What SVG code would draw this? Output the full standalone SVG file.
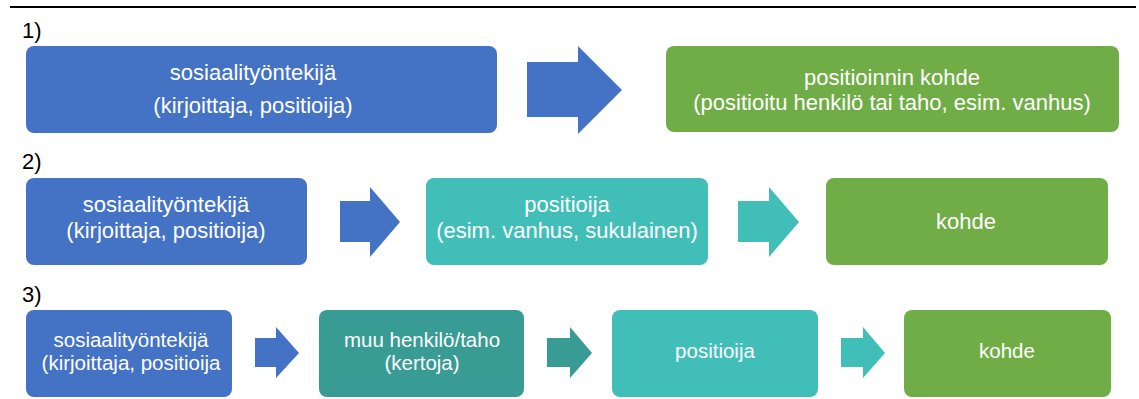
<svg xmlns="http://www.w3.org/2000/svg" width="1139" height="399" viewBox="0 0 1139 399">
<style>
.lbl{font-family:"Liberation Sans",Arial,sans-serif;font-size:22px;fill:#000}
.t{font-family:"Liberation Sans",Arial,sans-serif;font-size:22px;fill:#fff;text-anchor:middle}
.s{font-family:"Liberation Sans",Arial,sans-serif;font-size:20.5px;fill:#fff;text-anchor:middle}
.blue{fill:#4472C4}
.green{fill:#70AD47}
.teal{fill:#42BEB9}
.dteal{fill:#389C95}
</style>
<rect width="1139" height="399" fill="#fff"/>
<line x1="10" y1="7" x2="1136" y2="7" stroke="#000" stroke-width="2"/>
<text class="lbl" x="22" y="38">1)</text>
<text class="lbl" x="22" y="169">2)</text>
<text class="lbl" x="22" y="302">3)</text>
<g id="connectors">
<polygon class="blue" points="527,62 578,62 578,46 622,90 578,134 578,117 527,117"/>
<polygon class="blue" points="340,201 370,201 370,187 400,222 370,257 370,242 340,242"/>
<polygon class="teal" points="738,201 769,201 769,187 799,222 769,257 769,242 738,242"/>
<polygon class="blue" points="255,338 276,338 276,327 299,353 276,378 276,367 255,367"/>
<polygon class="dteal" points="547,338 570,338 570,327 592,353 570,378 570,367 547,367"/>
<polygon class="teal" points="841,338 863,338 863,327 885,353 863,378 863,367 841,367"/>
</g>
<g id="r1-writer">
<rect class="blue" x="26" y="46" width="471" height="87" rx="8"/>
<text class="t" x="253" y="80">sosiaalityöntekijä</text>
<text class="t" x="253" y="113">(kirjoittaja, positioija)</text>
</g>
<g id="r1-target">
<rect class="green" x="666" y="46" width="453" height="86" rx="8"/>
<text class="t" x="892" y="85">positioinnin kohde</text>
<text class="t" x="892" y="110">(positioitu henkilö tai taho, esim. vanhus)</text>
</g>
<g id="r2-writer">
<rect class="blue" x="26" y="178" width="281" height="87" rx="8"/>
<text class="t" x="166" y="212">sosiaalityöntekijä</text>
<text class="t" x="166" y="238">(kirjoittaja, positioija)</text>
</g>
<g id="r2-positioner">
<rect class="teal" x="426" y="178" width="282" height="87" rx="8"/>
<text class="t" x="567" y="212">positioija</text>
<text class="t" x="567" y="238">(esim. vanhus, sukulainen)</text>
</g>
<g id="r2-target">
<rect class="green" x="826" y="178" width="282" height="87" rx="8"/>
<text class="t" x="966" y="229">kohde</text>
</g>
<g id="r3-writer">
<rect class="blue" x="26" y="310" width="206" height="87" rx="8"/>
<text class="s" x="131" y="347">sosiaalityöntekijä</text>
<text class="s" x="131" y="370">(kirjoittaja, positioija</text>
</g>
<g id="r3-teller">
<rect class="dteal" x="319" y="310" width="205" height="87" rx="8"/>
<text class="s" x="422" y="347">muu henkilö/taho</text>
<text class="s" x="422" y="370">(kertoja)</text>
</g>
<g id="r3-positioner">
<rect class="teal" x="612" y="310" width="206" height="87" rx="8"/>
<text class="s" x="715" y="358">positioija</text>
</g>
<g id="r3-target">
<rect class="green" x="904" y="310" width="207" height="87" rx="8"/>
<text class="s" x="1007" y="358">kohde</text>
</g>
</svg>
